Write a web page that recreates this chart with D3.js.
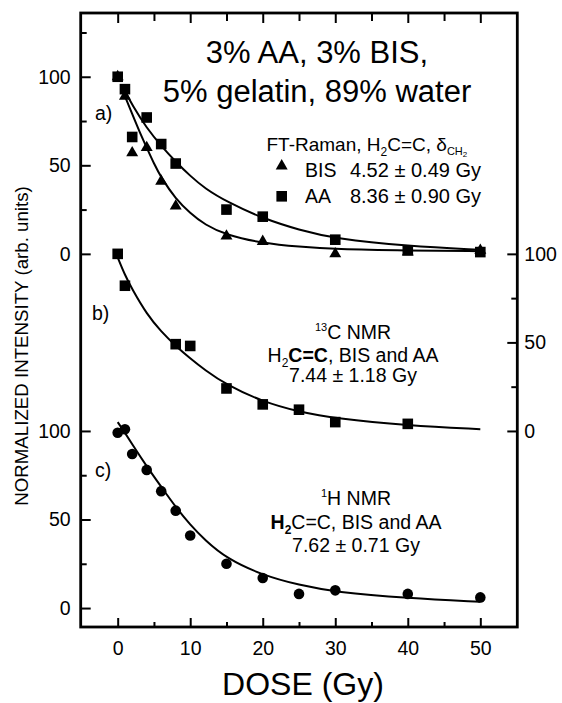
<!DOCTYPE html>
<html>
<head>
<meta charset="utf-8">
<script src="https://d3js.org/d3.v7.min.js"></script>
<style>
    body { margin: 0; background: #fff; }
    svg text { font-family: "Liberation Sans", Arial, Helvetica, sans-serif; fill: #000; }
</style>
</head>
<body>
<div id="graph"></div>
<script>
// a) FT-Raman, doses in Gy
var dosesA = [0, 1, 2, 4, 6, 8, 15, 20, 30, 40, 50];
var ramanBis = [100, 89, 57, 60, 41, 27, 10, 7, 0, 1, 2];
var ramanAA = [100, 93, 66, 77, 62, 51, 25, 21, 8, 2, 1];
// b) 13C NMR
var dosesB = [0, 1, 8, 10, 15, 20, 25, 30, 40];
var nmrC13 = [100, 82, 49, 48, 24, 15, 12, 5, 4];
// c) 1H NMR
var dosesC = [0, 1, 2, 4, 6, 8, 10, 15, 20, 25, 30, 40, 50];
var nmrH1 = [99, 101, 87, 78, 66, 55, 41, 25, 17, 8, 10, 8, 6];

// fitted curves [dose, value]
var fitBis = [[0.8,91],[1,89],[2,79],[3,69],[4,60],[5,51],[6,43],[8,31],[10,23],[12,16.5],[15,10.5],[20,6],[25,4],[30,2.6],[40,1.9],[50,1.5]];
var fitAA = [[1,92],[2,84],[4,71],[6,61],[8,52],[10,44],[12,37],[15,29.5],[20,20],[25,13.5],[30,8.5],[40,4.3],[50,2.3]];
var fitC13 = [[0,98],[1,88],[2,80],[4,66],[6,56],[8,48],[10,41],[12,34.5],[15,26],[20,16.5],[25,10.8],[30,7],[40,3],[50,1]];
var fitH1 = [[0,105],[1,99],[2,92.5],[4,80],[6,68.5],[8,57],[10,47],[12,38.5],[15,28],[20,18.5],[25,13],[30,9],[40,5.5],[50,3.5]];

// tick values
var xTicks = [0, 10, 20, 30, 40, 50];
var xMinor = [5, 15, 25, 35, 45];
var yTicks = [0, 50, 100];
var yMinor = [25, 75];
var yMinorTop = [25, 75, 125];

var margin = {top: 13, right: 44.7, bottom: 76, left: 80.7},
    width = 562 - margin.left - margin.right,
    height = 703 - margin.top - margin.bottom;

var root = d3.select("#graph").append("svg")
    .attr("width", 562)
    .attr("height", 703);

var svg = root.append("g")
    .attr("transform", "translate(" + margin.left + "," + margin.top + ")");

var x = d3.scaleLinear().domain([-5.1, 55.1]).range([0, width]);
// the three panels are stacked on one shared scale, 100 units apart
var y = d3.scaleLinear().domain([-10.7, 336]).range([height, 0]);
function panel(off) {
    return d3.scaleLinear().domain([0, 100]).range([y(off), y(off + 100)]);
}
var yA = panel(200), yB = panel(100), yC = panel(0);

function styleAxis(g) {
    g.select(".domain").remove();
    g.attr("font-size", 19.5).attr("font-family", null);
    g.selectAll(".tick line").attr("stroke", "#000").attr("stroke-width", 2);
}

// left axis, panel a and c
[[yA, yMinorTop], [yC, yMinor]].forEach(function(p) {
    svg.append("g").call(d3.axisLeft(p[0]).tickValues(yTicks).tickSize(-10).tickPadding(10)).call(styleAxis);
    svg.append("g").call(d3.axisLeft(p[0]).tickValues(p[1]).tickSize(-6).tickFormat("")).call(styleAxis);
});
// right axis, panel b
svg.append("g").attr("transform", "translate(" + width + ",0)")
    .call(d3.axisRight(yB).tickValues(yTicks).tickSize(-10).tickPadding(7)).call(styleAxis);
svg.append("g").attr("transform", "translate(" + width + ",0)")
    .call(d3.axisRight(yB).tickValues(yMinor).tickSize(-6).tickFormat("")).call(styleAxis);

// bottom + top
svg.append("g").attr("transform", "translate(0," + height + ")")
    .call(d3.axisBottom(x).tickValues(xTicks).tickSize(-9).tickPadding(14.5)).call(styleAxis);
svg.append("g").attr("transform", "translate(0," + height + ")")
    .call(d3.axisBottom(x).tickValues(xMinor).tickSize(-5).tickFormat("")).call(styleAxis);
svg.append("g").call(d3.axisTop(x).tickValues(xTicks).tickSize(-10).tickFormat("")).call(styleAxis);
svg.append("g").call(d3.axisTop(x).tickValues(xMinor).tickSize(-8).tickFormat("")).call(styleAxis);

svg.append("rect")
    .attr("width", width).attr("height", height)
    .attr("fill", "none").attr("stroke", "#000").attr("stroke-width", 2.8);

// fit curves
function drawFit(data, ys) {
    var line = d3.line()
        .x(function(d) { return x(d[0]); })
        .y(function(d) { return ys(d[1]); })
        .curve(d3.curveBasis);
    svg.append("path").datum(data)
        .attr("d", line)
        .attr("fill", "none").attr("stroke", "#000").attr("stroke-width", 2);
}
drawFit(fitBis, yA);
drawFit(fitAA, yA);
drawFit(fitC13, yB);
drawFit(fitH1, yC);

// markers
var tri = d3.symbol().type(d3.symbolTriangle).size(62);
function squares(doses, vals, ys) {
    svg.selectAll(null).data(doses).enter().append("rect")
        .attr("x", function(d) { return x(d) - 5.3; })
        .attr("y", function(d, i) { return ys(vals[i]) - 5.3; })
        .attr("width", 10.6).attr("height", 10.6)
        .attr("fill", "#000");
}
svg.selectAll(null).data(dosesA).enter().append("path")
    .attr("d", tri)
    .attr("transform", function(d, i) { return "translate(" + x(d) + "," + yA(ramanBis[i]) + ")"; })
    .attr("fill", "#000");
squares(dosesA, ramanAA, yA);
squares(dosesB, nmrC13, yB);
svg.selectAll(null).data(dosesC).enter().append("circle")
    .attr("cx", function(d) { return x(d); })
    .attr("cy", function(d, i) { return yC(nmrH1[i]); })
    .attr("r", 5.3)
    .attr("fill", "#000");

// ---- texts ----
function txt(xp, yp, size, anchor) {
    return root.append("text").attr("x", xp).attr("y", yp)
        .attr("font-size", size).attr("text-anchor", anchor || "start");
}

txt(317, 63, 31, "middle").text("3% AA, 3% BIS,");
txt(317, 102, 31, "middle").text("5% gelatin, 89% water");

// legend a
var t = txt(266.5, 150.5, 19);
t.append("tspan").text("FT-Raman, H");
t.append("tspan").attr("font-size", 12).attr("dy", 5).text("2");
t.append("tspan").attr("dy", -5).text("C=C, \u03b4");
t.append("tspan").attr("font-size", 11).attr("dy", 4).text("CH");
t.append("tspan").attr("font-size", 8).attr("dy", 2).text("2");

root.append("path").attr("d", tri)
    .attr("transform", "translate(281.7,166)").attr("fill", "#000");
root.append("rect").attr("x", 276.4).attr("y", 191).attr("width", 10.6).attr("height", 10.6).attr("fill", "#000");
txt(305, 176.5, 19.5).text("BIS");
txt(481, 176.5, 20, "end").text("4.52 \u00b1 0.49 Gy");
txt(305, 202.5, 19.5).text("AA");
txt(481, 202.5, 20, "end").text("8.36 \u00b1 0.90 Gy");

// legend b
t = txt(353, 339, 19.5, "middle");
t.append("tspan").attr("font-size", 11).attr("dy", -8).text("13");
t.append("tspan").attr("dy", 8).text("C NMR");
t = txt(353, 362, 19.5, "middle");
t.append("tspan").text("H");
t.append("tspan").attr("font-size", 12).attr("dy", 5).text("2");
t.append("tspan").attr("dy", -5).attr("font-weight", "bold").text("C=C");
t.append("tspan").text(", BIS and AA");
txt(353, 382, 19.5, "middle").text("7.44 \u00b1 1.18 Gy");

// legend c
t = txt(356, 505, 19.5, "middle");
t.append("tspan").attr("font-size", 11).attr("dy", -8).text("1");
t.append("tspan").attr("dy", 8).text("H NMR");
t = txt(356, 529, 19.5, "middle");
t.append("tspan").attr("font-weight", "bold").text("H");
t.append("tspan").attr("font-size", 12).attr("font-weight", "bold").attr("dy", 5).text("2");
t.append("tspan").attr("dy", -5).text("C=C, BIS and AA");
txt(356, 552, 19.5, "middle").text("7.62 \u00b1 0.71 Gy");

// panel labels
txt(95, 120, 19.5).text("a)");
txt(92, 320, 19.5).text("b)");
txt(95, 477, 19.5).text("c)");

// axis titles
txt(303, 695, 32, "middle").text("DOSE (Gy)");
root.append("text")
    .attr("transform", "translate(28,346) rotate(-90)")
    .attr("font-size", 18.7).attr("text-anchor", "middle")
    .text("NORMALIZED INTENSITY (arb. units)");
</script>
</body>
</html>
